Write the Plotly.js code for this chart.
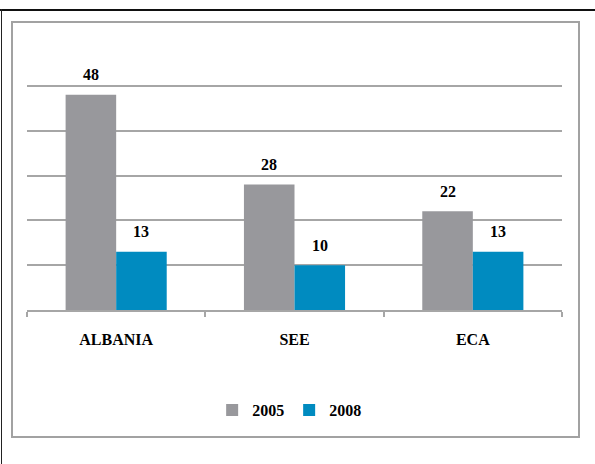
<!DOCTYPE html>
<html>
<head>
<meta charset="utf-8">
<script src="https://cdn.plot.ly/plotly-3.0.1.min.js"></script>
<style>
  html, body { margin: 0; padding: 0; background: #fff; }
  #wrap { position: relative; width: 595px; height: 464px; overflow: hidden; background: #fff; }
  .topline { position: absolute; left: 0; top: 9px; width: 595px; height: 1.5px; background: #111; }
  .leftline { position: absolute; left: 1px; top: 9px; width: 1.3px; height: 455px; background: #222; }
  .box { position: absolute; left: 11px; top: 21px; width: 565px; height: 413px; border: 2px solid #a2a2a2; }
  #chart { position: absolute; left: 0; top: 0; width: 595px; height: 464px; }
</style>
</head>
<body>
<div id="wrap">
  <div class="topline"></div>
  <div class="leftline"></div>
  <div class="box"></div>
  <div id="chart"></div>
</div>
<script>
const categories = ["ALBANIA", "SEE", "ECA"];
const seriesNames = ["2005", "2008"];
const values2005 = [48, 28, 22];
const values2008 = [13, 10, 13];
const seriesColors = ["#98989c", "#008bc0"];

const serif = "Liberation Serif, Times New Roman, serif";
const bargap = 0.433;
const barWidthData = (1 - bargap) / 2;

const seriesValues = [values2005, values2008];
const traces = seriesValues.map((vals, s) => ({
  type: "bar",
  name: seriesNames[s],
  x: categories,
  y: vals,
  marker: { color: seriesColors[s], line: { width: 0 } },
  hoverinfo: "skip"
}));

const annotations = [];
seriesValues.forEach((vals, s) => {
  vals.forEach((v, i) => {
    annotations.push({
      xref: "x", yref: "y",
      x: i + (s === 0 ? -1 : 1) * barWidthData / 2,
      y: v,
      text: "<b>" + v + "</b>",
      showarrow: false,
      yanchor: "middle",
      yshift: 20,
      font: { family: serif, size: 16, color: "#000" }
    });
  });
});

const layout = {
  width: 595, height: 464,
  margin: { l: 27, r: 33, t: 41, b: 154, pad: 0 },
  paper_bgcolor: "rgba(0,0,0,0)",
  plot_bgcolor: "rgba(0,0,0,0)",
  barmode: "group",
  bargap: bargap,
  bargroupgap: 0,
  showlegend: true,
  legend: {
    orientation: "h",
    x: 0.49, xanchor: "center",
    y: -0.372, yanchor: "middle",
    font: { family: serif, size: 16, color: "#000", weight: "bold" },
    itemwidth: 30,
    traceorder: "normal"
  },
  xaxis: {
    type: "category",
    showline: true, linecolor: "#a6a6a6", linewidth: 2,
    ticks: "outside", tickson: "boundaries", ticklen: 5, tickwidth: 2, tickcolor: "#a6a6a6",
    ticklabelstandoff: 14,
    tickfont: { family: serif, size: 16, color: "#000", weight: "bold" },
    showgrid: false, zeroline: false, fixedrange: true
  },
  yaxis: {
    range: [0, 60], dtick: 10,
    showticklabels: false, ticks: "",
    showgrid: true, gridcolor: "#a6a6a6", gridwidth: 2,
    zeroline: false, showline: false, fixedrange: true
  },
  annotations: annotations,
  font: { family: serif }
};

Plotly.newPlot("chart", traces, layout, { displayModeBar: false, staticPlot: true });
</script>
</body>
</html>
